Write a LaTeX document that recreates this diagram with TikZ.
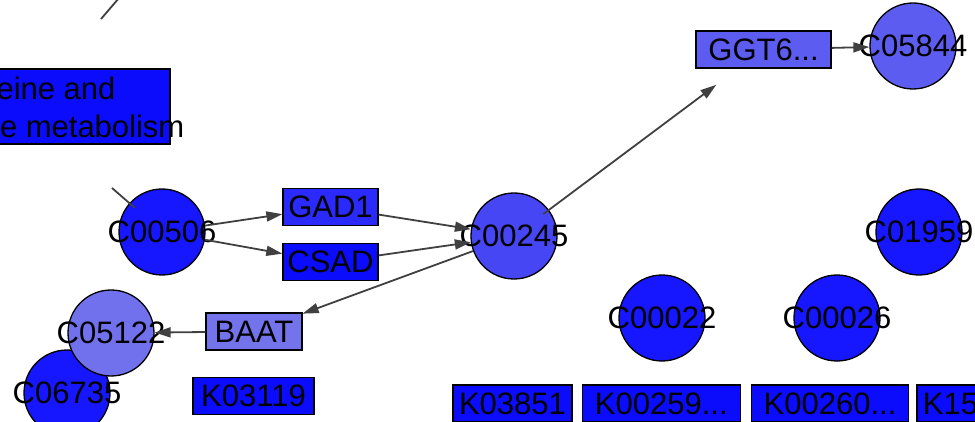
\documentclass[tikz,border=0pt]{standalone}
\usepackage{fontspec}
\setmainfont{Liberation Sans}
\usepackage{tikz}
\usetikzlibrary{arrows.meta,positioning}
\definecolor{cpdblue}{RGB}{22,22,255}
\definecolor{cpdmid}{RGB}{70,70,245}
\definecolor{cpdlight}{RGB}{92,92,240}
\definecolor{cpdpale}{RGB}{113,113,238}
\definecolor{genedeep}{RGB}{12,12,252}
\definecolor{genemid}{RGB}{42,42,252}
\definecolor{genepale}{RGB}{115,115,236}
\definecolor{edgegray}{RGB}{64,64,64}

\begin{document}
\begin{tikzpicture}[x=1pt,y=-1pt,
    font=\fontsize{31}{38}\selectfont,
    cpd/.style={circle,draw=black,line width=1.3pt,fill=cpdblue,
      minimum size=86pt,inner sep=0pt},
    gene/.style={rectangle,draw=black,line width=1.3pt,fill=genedeep,
      minimum height=37pt,inner sep=0pt},
    arr/.style={-{Triangle[length=16pt,width=10pt]},line width=1.8pt,draw=edgegray},
    link/.style={line width=1.8pt,draw=edgegray}
  ]
    \useasboundingbox (0,0) rectangle (975,422);
    \clip (0,0) rectangle (975,422);
    % pathway link
    \node[gene,minimum width=290pt,minimum height=75pt] (pw) at (25,106.5) {};
    \node[align=center,inner sep=0pt] (pwtext) at (25,107) {Cysteine and\\methionine metabolism};
    % compounds
    \node[cpd,label=center:C06735] (c06735) at (67,393) {};
    \node[cpd,fill=cpdpale,label=center:C05122] (c05122) at (111,333) {};
    \node[cpd,label=center:C00506] (c00506) at (162,232) {};
    \node[cpd,fill=cpdmid,label=center:C00245] (c00245) at (514,236) {};
    \node[cpd,fill=cpdlight,label=center:C05844] (c05844) at (913,46) {};
    \node[cpd,label=center:C01959] (c01959) at (919,232) {};
    \node[cpd,label=center:C00022] (c00022) at (662,318) {};
    \node[cpd,label=center:C00026] (c00026) at (837,318) {};
    % genes
    \node[gene,fill=genemid,minimum width=95pt] (gad1) at (330.5,207) {GAD1};
    \node[gene,minimum width=95pt,below=17pt of gad1] (csad) {CSAD};
    \node[gene,fill=genepale,minimum width=96pt] (baat) at (254,331.5) {BAAT};
    \node[gene,minimum width=121pt] (k03119) at (253.5,396) {K03119};
    \node[gene,fill=cpdlight,minimum width=135pt] (ggt6) at (763.5,49.5) {GGT6...};
    \node[gene,minimum width=119pt] (k03851) at (512.5,403.5) {K03851};
    \node[gene,minimum width=158pt,right=9pt of k03851] (k00259) {K00259...};
    \node[gene,minimum width=157pt,right=10pt of k00259] (k00260) {K00260...};
    \node[gene,minimum width=119pt,right=7pt of k00260] (k15372) {K15372};
    % edges
    \coordinate (tl1) at (101,19);
    \coordinate (tl2) at (119,-2);
    \coordinate (ul1) at (112,188);
    \coordinate (ul2) at (135,208);
    \draw[link] (tl1) -- (tl2);
    \draw[link] (ul1) -- (ul2);
    \draw[arr] (c00506) -- (gad1);
    \draw[arr] (c00506) -- (csad);
    \draw[arr] (gad1) -- (c00245);
    \draw[arr] (csad) -- (c00245);
    \draw[arr] (c00245) -- (baat);
    \draw[arr] (baat) -- (c05122);
    \draw[arr,shorten <=-7pt,shorten >=27pt] (c00245) -- (ggt6);
    \draw[arr] (ggt6) -- (c05844);
  \end{tikzpicture}
\end{document}
